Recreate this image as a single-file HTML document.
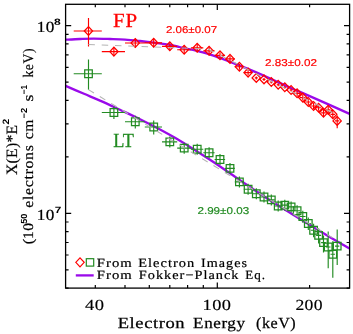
<!DOCTYPE html>
<html><head><meta charset="utf-8"><title>Electron spectra</title>
<style>html,body{margin:0;padding:0;background:#fff}svg{display:block}</style>
</head><body>
<svg width="353" height="334" viewBox="0 0 353 334">
<rect width="353" height="334" fill="#fff"/>
<g style="will-change:transform" text-rendering="geometricPrecision">
<g fill="none" stroke="#9a0aea" stroke-width="2.3">
<path d="M65.60 39.70 C68.00 39.58 75.32 39.18 80.00 39.00 C84.68 38.82 88.70 38.60 93.70 38.60 C98.70 38.60 104.78 38.83 110.00 39.00 C115.22 39.17 120.00 39.27 125.00 39.60 C130.00 39.93 135.50 40.53 140.00 41.00 C144.50 41.47 147.83 41.87 152.00 42.40 C156.17 42.93 161.17 43.60 165.00 44.20 C168.83 44.80 171.67 45.32 175.00 46.00 C178.33 46.68 181.67 47.58 185.00 48.30 C188.33 49.02 192.17 49.67 195.00 50.30 C197.83 50.93 199.67 51.45 202.00 52.10 C204.33 52.75 206.00 53.23 209.00 54.20 C212.00 55.17 216.50 56.62 220.00 57.90 C223.50 59.18 226.67 60.60 230.00 61.90 C233.33 63.20 237.00 64.53 240.00 65.70 C243.00 66.87 244.33 67.37 248.00 68.90 C251.67 70.43 257.33 72.85 262.00 74.90 C266.67 76.95 271.33 79.08 276.00 81.20 C280.67 83.32 286.00 85.82 290.00 87.60 C294.00 89.38 294.17 89.35 300.00 91.90 C305.83 94.45 316.73 99.23 325.00 102.90 C333.27 106.57 345.50 112.07 349.60 113.90"/>
<path d="M65.60 85.90 C68.67 87.22 78.27 91.35 84.00 93.80 C89.73 96.25 94.00 97.93 100.00 100.60 C106.00 103.27 113.33 106.70 120.00 109.80 C126.67 112.90 133.33 115.92 140.00 119.20 C146.67 122.48 154.17 126.40 160.00 129.50 C165.83 132.60 170.00 134.88 175.00 137.80 C180.00 140.72 184.17 143.33 190.00 147.00 C195.83 150.67 203.33 155.42 210.00 159.80 C216.67 164.18 223.83 169.10 230.00 173.30 C236.17 177.50 240.33 180.50 247.00 185.00 C253.67 189.50 262.83 195.67 270.00 200.30 C277.17 204.93 285.00 209.68 290.00 212.80 C295.00 215.92 293.67 215.13 300.00 219.00 C306.33 222.87 319.73 231.07 328.00 236.00 C336.27 240.93 346.00 246.50 349.60 248.60"/>
</g>
<g fill="none" stroke="#228b22" stroke-width="1.15">
<path d="M73.7 73.7H101.8M88.5 59.4V89.8M101.8 112.5H125.0M113.9 106.5V119.0M125.0 121.7H144.8M135.3 115.7V128.5M144.8 127.0H162.0M153.7 120.4V134.4M162.0 141.9H177.2M169.8 136.5V147.5M177.2 148.1H190.9M184.2 142.7V153.7M190.9 149.2H203.3M197.2 143.8V154.8M203.3 152.7H214.6M209.1 147.3V158.3M214.6 159.5H225.1M220.0 154.1V165.1M225.1 168.4H234.8M230.0 163.0V174.0M234.8 181.8H243.8M239.4 176.4V187.4M243.8 189.2H252.3M248.1 183.8V194.8M252.3 193.7H260.2M256.3 188.3V199.3M260.2 197.0H267.7M264.0 191.6V202.6M267.7 199.9H274.8M271.3 194.5V205.5M274.8 206.0H281.6M278.2 200.6V211.6M281.6 205.1H288.0M284.8 199.7V210.7M288.0 206.8H294.1M291.1 201.4V212.4M294.1 210.7H300.0M297.1 205.3V216.3M300.0 216.5H305.6M302.8 210.7V222.7M305.6 223.5H310.9M308.3 217.5V230.1M310.9 230.2H316.1M313.6 223.7V237.2M316.1 235.4H321.1M318.6 228.4V243.4M321.1 242.6H325.9M323.5 235.6V252.4M325.9 247.0H330.5M328.2 231.5V268.2M330.5 254.2H335.0M332.8 241.2V277.8M335.0 246.1H339.3M337.2 229.4V265.0"/>
<path d="M84.7 69.9h7.6v7.6h-7.6ZM110.1 108.7h7.6v7.6h-7.6ZM131.5 117.9h7.6v7.6h-7.6ZM149.9 123.2h7.6v7.6h-7.6ZM166.0 138.1h7.6v7.6h-7.6ZM180.4 144.3h7.6v7.6h-7.6ZM193.4 145.4h7.6v7.6h-7.6ZM205.3 148.9h7.6v7.6h-7.6ZM216.2 155.7h7.6v7.6h-7.6ZM226.2 164.6h7.6v7.6h-7.6ZM235.6 178.0h7.6v7.6h-7.6ZM244.3 185.4h7.6v7.6h-7.6ZM252.5 189.9h7.6v7.6h-7.6ZM260.2 193.2h7.6v7.6h-7.6ZM267.5 196.1h7.6v7.6h-7.6ZM274.4 202.2h7.6v7.6h-7.6ZM281.0 201.3h7.6v7.6h-7.6ZM287.3 203.0h7.6v7.6h-7.6ZM293.3 206.9h7.6v7.6h-7.6ZM299.0 212.7h7.6v7.6h-7.6ZM304.5 219.7h7.6v7.6h-7.6ZM309.8 226.4h7.6v7.6h-7.6ZM314.8 231.6h7.6v7.6h-7.6ZM319.7 238.8h7.6v7.6h-7.6ZM324.4 243.2h7.6v7.6h-7.6ZM329.0 250.4h7.6v7.6h-7.6ZM333.4 242.3h7.6v7.6h-7.6Z" stroke-width="1.25"/>
</g>
<g fill="none" stroke="#ff0000" stroke-width="1.15">
<path d="M73.7 31.0H101.8M88.5 18.0V46.5M101.8 51.6H125.0M113.9 47.2V56.0M125.0 43.0H144.8M135.3 38.6V47.4M144.8 42.8H162.0M153.7 38.4V47.2M162.0 46.3H177.2M169.8 41.9V50.7M177.2 49.7H190.9M184.2 45.3V54.1M190.9 47.8H203.3M197.2 43.4V52.2M203.3 50.8H214.6M209.1 46.4V55.2M214.6 55.3H225.1M220.0 52.3V58.3M225.1 58.9H234.8M230.0 55.9V61.9M234.8 66.7H243.8M239.4 63.7V69.7M243.8 72.6H252.3M248.1 69.6V75.6M254.8 77.9H257.8M256.3 76.4V79.4M262.5 79.4H265.5M264.0 77.9V80.9M269.8 82.0H272.8M271.3 80.5V83.5M276.7 84.7H279.7M278.2 83.2V86.2M283.3 87.2H286.3M284.8 85.7V88.7M289.6 90.0H292.6M291.1 88.5V91.5M294.1 93.3H300.0M297.1 90.3V96.3M300.0 97.6H305.6M302.8 94.6V100.6M305.6 102.0H310.9M308.3 99.0V105.0M310.9 106.0H316.1M313.6 103.0V109.0M316.1 107.7H321.1M318.6 104.7V110.7M321.1 112.8H325.9M323.5 108.8V116.8M325.9 109.8H330.5M328.2 105.4V114.2M330.5 114.3H335.0M332.8 109.9V118.7M335.0 120.9H339.3M337.2 115.6V128.3"/>
<path d="M84.3 31.0L88.5 26.6L92.6 31.0L88.5 35.4ZM109.8 51.6L113.9 47.2L118.1 51.6L113.9 56.0ZM131.1 43.0L135.3 38.6L139.4 43.0L135.3 47.4ZM149.5 42.8L153.7 38.4L157.8 42.8L153.7 47.2ZM165.7 46.3L169.8 41.9L174.0 46.3L169.8 50.7ZM180.1 49.7L184.2 45.3L188.4 49.7L184.2 54.1ZM193.1 47.8L197.2 43.4L201.4 47.8L197.2 52.2ZM204.9 50.8L209.1 46.4L213.2 50.8L209.1 55.2ZM215.8 55.3L220.0 50.9L224.1 55.3L220.0 59.7ZM225.9 58.9L230.0 54.5L234.2 58.9L230.0 63.3ZM235.2 66.7L239.4 62.3L243.5 66.7L239.4 71.1ZM243.9 72.6L248.1 68.2L252.2 72.6L248.1 77.0ZM252.1 77.9L256.3 73.5L260.4 77.9L256.3 82.3ZM259.9 79.4L264.0 75.0L268.2 79.4L264.0 83.8ZM267.2 82.0L271.3 77.6L275.5 82.0L271.3 86.4ZM274.1 84.7L278.2 80.3L282.4 84.7L278.2 89.1ZM280.7 87.2L284.8 82.8L289.0 87.2L284.8 91.6ZM286.9 90.0L291.1 85.6L295.2 90.0L291.1 94.4ZM292.9 93.3L297.1 88.9L301.2 93.3L297.1 97.7ZM298.6 97.6L302.8 93.2L306.9 97.6L302.8 102.0ZM304.1 102.0L308.3 97.6L312.4 102.0L308.3 106.4ZM309.4 106.0L313.6 101.6L317.7 106.0L313.6 110.4ZM314.5 107.7L318.6 103.3L322.8 107.7L318.6 112.1ZM319.4 112.8L323.5 108.4L327.7 112.8L323.5 117.2ZM324.1 109.8L328.2 105.4L332.4 109.8L328.2 114.2ZM328.6 114.3L332.8 109.9L336.9 114.3L332.8 118.7ZM333.0 120.9L337.2 116.5L341.3 120.9L337.2 125.3Z" stroke-width="1.25"/>
</g>
<g fill="none" stroke="#b4b4b4" stroke-width="1.1" stroke-dasharray="6.5 6.8">
<path d="M88.4 44.5 L207.9 49.0 L337 114.9"/>
<path d="M88.4 89.6 L337 240.5"/>
</g>
<g fill="none" stroke="#000" stroke-width="1.3">
<rect x="65.6" y="4.3" width="284.0" height="283.8"/>
<path d="M95.3 288.1v-3.0M95.3 4.3v3.0M125.0 288.1v-3.0M125.0 4.3v3.0M149.3 288.1v-3.0M149.3 4.3v3.0M169.8 288.1v-3.0M169.8 4.3v3.0M187.6 288.1v-3.0M187.6 4.3v3.0M203.3 288.1v-3.0M203.3 4.3v3.0M217.3 288.1v-5.6M217.3 4.3v5.6M309.6 288.1v-3.0M309.6 4.3v3.0M65.6 288.1h3.0M349.6 288.1h-3.0M65.6 269.9h3.0M349.6 269.9h-3.0M65.6 255.0h3.0M349.6 255.0h-3.0M65.6 242.5h3.0M349.6 242.5h-3.0M65.6 231.6h3.0M349.6 231.6h-3.0M65.6 222.0h3.0M349.6 222.0h-3.0M65.6 213.4h5.6M349.6 213.4h-5.6M65.6 156.9h3.0M349.6 156.9h-3.0M65.6 123.8h3.0M349.6 123.8h-3.0M65.6 100.4h3.0M349.6 100.4h-3.0M65.6 82.2h3.0M349.6 82.2h-3.0M65.6 67.3h3.0M349.6 67.3h-3.0M65.6 54.8h3.0M349.6 54.8h-3.0M65.6 43.9h3.0M349.6 43.9h-3.0M65.6 34.3h3.0M349.6 34.3h-3.0M65.6 25.7h5.6M349.6 25.7h-5.6" stroke-width="1.2"/>
</g>
<text x="85.08" y="309.8" font-family="Liberation Serif, serif" font-size="15.4" fill="#000" stroke="#000" stroke-width="0.15" letter-spacing="0.3" textLength="19.27" lengthAdjust="spacingAndGlyphs">40</text>
<text x="202.63" y="309.8" font-family="Liberation Serif, serif" font-size="15.4" fill="#000" stroke="#000" stroke-width="0.15" letter-spacing="0.3" textLength="28.61" lengthAdjust="spacingAndGlyphs">100</text>
<text x="295.42" y="309.8" font-family="Liberation Serif, serif" font-size="15.4" fill="#000" stroke="#000" stroke-width="0.15" letter-spacing="0.3" textLength="27.48" lengthAdjust="spacingAndGlyphs">200</text>
<text x="36.75" y="31.8" font-family="Liberation Serif, serif" font-size="15.4" fill="#000" stroke="#000" stroke-width="0.22" letter-spacing="0.3" textLength="17.89" lengthAdjust="spacingAndGlyphs">10</text>
<text x="54.13" y="24.8" font-family="Liberation Sans, sans-serif" font-size="9.2" fill="#000" font-weight="bold" textLength="6.74" lengthAdjust="spacingAndGlyphs">8</text>
<text x="36.75" y="219.7" font-family="Liberation Serif, serif" font-size="15.4" fill="#000" stroke="#000" stroke-width="0.22" letter-spacing="0.3" textLength="17.89" lengthAdjust="spacingAndGlyphs">10</text>
<text x="54.88" y="212.8" font-family="Liberation Sans, sans-serif" font-size="9.2" fill="#000" font-weight="bold" textLength="6.58" lengthAdjust="spacingAndGlyphs">7</text>
<text x="117.69" y="328.3" font-family="Liberation Serif, serif" font-size="15.4" fill="#000" stroke="#000" stroke-width="0.25" letter-spacing="0.5" textLength="67.56" lengthAdjust="spacingAndGlyphs">Electron</text>
<text x="193.14" y="328.3" font-family="Liberation Serif, serif" font-size="15.4" fill="#000" stroke="#000" stroke-width="0.25" letter-spacing="0.5" textLength="52.43" lengthAdjust="spacingAndGlyphs">Energy</text>
<text x="256.02" y="328.3" font-family="Liberation Serif, serif" font-size="15.4" fill="#000" stroke="#000" stroke-width="0.25" letter-spacing="0.5" textLength="40.18" lengthAdjust="spacingAndGlyphs">(keV)</text>
<text x="96.78" y="266.9" font-family="Liberation Serif, serif" font-size="12.5" fill="#000" stroke="#000" stroke-width="0.2" letter-spacing="0.9" textLength="36.06" lengthAdjust="spacingAndGlyphs">From</text>
<text x="138.22" y="266.9" font-family="Liberation Serif, serif" font-size="12.5" fill="#000" stroke="#000" stroke-width="0.2" letter-spacing="0.9" textLength="57.09" lengthAdjust="spacingAndGlyphs">Electron</text>
<text x="201.08" y="266.9" font-family="Liberation Serif, serif" font-size="12.5" fill="#000" stroke="#000" stroke-width="0.2" letter-spacing="0.9" textLength="46.94" lengthAdjust="spacingAndGlyphs">Images</text>
<text x="96.78" y="278.8" font-family="Liberation Serif, serif" font-size="12.5" fill="#000" stroke="#000" stroke-width="0.2" letter-spacing="0.9" textLength="36.06" lengthAdjust="spacingAndGlyphs">From</text>
<text x="138.80" y="278.8" font-family="Liberation Serif, serif" font-size="12.5" fill="#000" stroke="#000" stroke-width="0.2" letter-spacing="0.9" textLength="100.68" lengthAdjust="spacingAndGlyphs">Fokker−Planck</text>
<text x="245.38" y="278.8" font-family="Liberation Serif, serif" font-size="12.5" fill="#000" stroke="#000" stroke-width="0.2" letter-spacing="0.9" textLength="20.61" lengthAdjust="spacingAndGlyphs">Eq.</text>
<text x="113.06" y="26.8" font-family="Liberation Serif, serif" font-size="20" fill="#ff0000" stroke="#ff0000" stroke-width="0.3" letter-spacing="0.8" textLength="24.91" lengthAdjust="spacingAndGlyphs">FP</text>
<text x="113.35" y="146.9" font-family="Liberation Serif, serif" font-size="20" fill="#228b22" stroke="#228b22" stroke-width="0.3" textLength="20.68" lengthAdjust="spacingAndGlyphs">LT</text>
<text x="165.96" y="32.8" font-family="Liberation Sans, sans-serif" font-size="9.9" fill="#ff0000" stroke="#ff0000" stroke-width="0.18" textLength="51.15" lengthAdjust="spacingAndGlyphs">2.06±0.07</text>
<text x="264.96" y="66.3" font-family="Liberation Sans, sans-serif" font-size="9.9" fill="#ff0000" stroke="#ff0000" stroke-width="0.18" textLength="51.96" lengthAdjust="spacingAndGlyphs">2.83±0.02</text>
<text x="197.46" y="213.8" font-family="Liberation Sans, sans-serif" font-size="9.9" fill="#228b22" stroke="#228b22" stroke-width="0.18" textLength="51.65" lengthAdjust="spacingAndGlyphs">2.99±0.03</text>
<text x="-0.46" y="0" font-family="Liberation Serif, serif" font-size="15.8" fill="#000" stroke="#000" stroke-width="0.2" letter-spacing="0.3" textLength="50.36" lengthAdjust="spacingAndGlyphs" transform="translate(16.6 174.5) rotate(-90)">X(E)*E</text>
<text x="50.13" y="-7.6" font-family="Liberation Sans, sans-serif" font-size="9.2" fill="#000" font-weight="bold" textLength="5.71" lengthAdjust="spacingAndGlyphs" transform="translate(16.6 174.5) rotate(-90)">2</text>
<text x="0.99" y="0" font-family="Liberation Serif, serif" font-size="14.6" fill="#000" stroke="#000" stroke-width="0.2" textLength="5.42" lengthAdjust="spacingAndGlyphs" transform="translate(32.9 245.3) rotate(-90)">(</text>
<text x="6.34" y="0" font-family="Liberation Serif, serif" font-size="14.6" fill="#000" stroke="#000" stroke-width="0.2" letter-spacing="0.3" textLength="16.21" lengthAdjust="spacingAndGlyphs" transform="translate(32.9 245.3) rotate(-90)">10</text>
<text x="21.54" y="-5.6" font-family="Liberation Sans, sans-serif" font-size="8.8" fill="#000" font-weight="bold" textLength="10.12" lengthAdjust="spacingAndGlyphs" transform="translate(32.9 245.3) rotate(-90)">50</text>
<text x="37.55" y="0" font-family="Liberation Serif, serif" font-size="14.6" fill="#000" stroke="#000" stroke-width="0.2" letter-spacing="0.6" textLength="63.24" lengthAdjust="spacingAndGlyphs" transform="translate(32.9 245.3) rotate(-90)">electrons</text>
<text x="105.95" y="0" font-family="Liberation Serif, serif" font-size="14.6" fill="#000" stroke="#000" stroke-width="0.2" letter-spacing="0.6" textLength="20.39" lengthAdjust="spacingAndGlyphs" transform="translate(32.9 245.3) rotate(-90)">cm</text>
<text x="126.77" y="-5.6" font-family="Liberation Sans, sans-serif" font-size="8.8" fill="#000" font-weight="bold" textLength="10.68" lengthAdjust="spacingAndGlyphs" transform="translate(32.9 245.3) rotate(-90)">−2</text>
<text x="143.78" y="0" font-family="Liberation Serif, serif" font-size="14.6" fill="#000" stroke="#000" stroke-width="0.2" textLength="6.91" lengthAdjust="spacingAndGlyphs" transform="translate(32.9 245.3) rotate(-90)">s</text>
<text x="151.04" y="-5.6" font-family="Liberation Sans, sans-serif" font-size="8.8" fill="#000" font-weight="bold" textLength="9.39" lengthAdjust="spacingAndGlyphs" transform="translate(32.9 245.3) rotate(-90)">−1</text>
<text x="167.72" y="0" font-family="Liberation Serif, serif" font-size="14.6" fill="#000" stroke="#000" stroke-width="0.2" letter-spacing="0.6" textLength="29.67" lengthAdjust="spacingAndGlyphs" transform="translate(32.9 245.3) rotate(-90)">keV)</text>
<path d="M75.8 262.3L80 257.8L84.2 262.3L80 266.8Z" fill="none" stroke="#ff0000" stroke-width="1.2"/>
<rect x="86.3" y="258.7" width="7.4" height="7.4" fill="none" stroke="#228b22" stroke-width="1.2"/>
<path d="M75.8 275.4H93.7" stroke="#9a0aea" stroke-width="2.3"/>
</g>
</svg>
</body></html>
